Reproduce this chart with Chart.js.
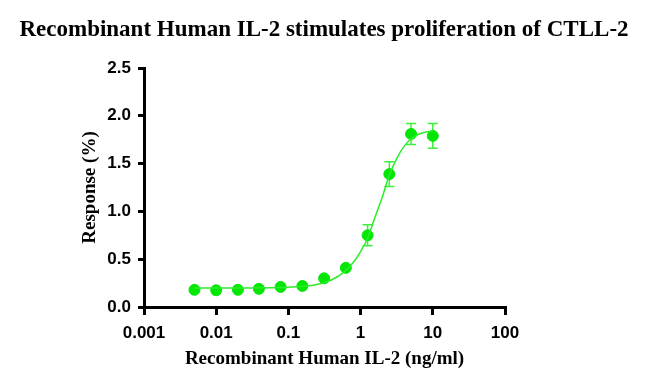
<!DOCTYPE html>
<html lang="en">
<head>
    <meta charset="UTF-8">
    <title>IL-2 CTLL-2 proliferation</title>
    <script src="https://cdn.jsdelivr.net/npm/chart.js"></script>
    <style>
        html, body { margin: 0; padding: 0; background: #fff; }
        .chart-container { position: relative; width: 648px; height: 389px; }
    </style>
</head>
<body>
    <div class="chart-container">
        <canvas id="doseChart"></canvas>
    </div>
    <script>
        // measured points (ng/ml, two-fold dilution from 10)
        const doses = [0.005, 0.01, 0.02, 0.039, 0.078, 0.156, 0.3125, 0.625, 1.25, 2.5, 5, 10];
        const responses = [0.18, 0.175, 0.18, 0.19, 0.21, 0.22, 0.30, 0.41, 0.75, 1.39, 1.81, 1.79];
        const errors = [0, 0, 0, 0, 0, 0, 0, 0, 0.11, 0.13, 0.11, 0.13];

        // fitted curve
        const curveX = [0.005, 0.02, 0.08, 0.15, 0.25, 0.4, 0.6, 0.8, 1.0, 1.25, 1.6, 2.0, 2.5, 3.2, 4, 5, 6.5, 8, 10];
        const curveY = [0.20, 0.20, 0.205, 0.215, 0.235, 0.285, 0.37, 0.47, 0.58, 0.72, 0.95, 1.15, 1.38, 1.56, 1.68, 1.76, 1.81, 1.83, 1.84];

        const xTicks = [0.001, 0.01, 0.1, 1, 10, 100];

        const tickFont = { family: 'Liberation Sans', size: 17, weight: 'bold' };
        const titleFont = { family: 'Liberation Serif', size: 19, weight: 'bold' };

        // error bars drawn under the dots
        const errorBars = {
            id: 'errorBars',
            beforeDatasetsDraw(chart) {
                const { ctx, scales: { x, y } } = chart;
                ctx.save();
                ctx.strokeStyle = '#3cf03c';
                ctx.lineWidth = 1.5;
                doses.forEach((d, i) => {
                    if (!errors[i]) return;
                    const px = x.getPixelForValue(d);
                    const top = y.getPixelForValue(responses[i] + errors[i]);
                    const bot = y.getPixelForValue(responses[i] - errors[i]);
                    ctx.beginPath();
                    ctx.moveTo(px, top); ctx.lineTo(px, bot);
                    ctx.moveTo(px - 5, top); ctx.lineTo(px + 5, top);
                    ctx.moveTo(px - 5, bot); ctx.lineTo(px + 5, bot);
                    ctx.stroke();
                });
                ctx.restore();
            }
        };

        const ctx = document.getElementById('doseChart').getContext('2d');
        new Chart(ctx, {
            type: 'scatter',
            data: {
                datasets: [{
                    label: 'Fit',
                    type: 'line',
                    data: curveX.map((v, i) => ({ x: v, y: curveY[i] })),
                    borderColor: '#2aee2a',
                    borderWidth: 1.5,
                    pointRadius: 0,
                    cubicInterpolationMode: 'monotone',
                    fill: false
                }, {
                    label: 'Response',
                    data: doses.map((v, i) => ({ x: v, y: responses[i] })),
                    backgroundColor: '#05e605',
                    borderColor: '#05e605',
                    pointRadius: 5.5,
                    pointHoverRadius: 5.5
                }]
            },
            options: {
                responsive: true,
                maintainAspectRatio: false,
                animation: false,
                layout: { padding: 0 },
                plugins: {
                    legend: { display: false },
                    tooltip: { enabled: false },
                    title: {
                        display: true,
                        text: 'Recombinant Human IL-2 stimulates proliferation of CTLL-2',
                        color: '#000',
                        font: { family: 'Liberation Serif', size: 23, weight: 'bold' },
                        padding: { top: 16.2, bottom: 24.2 }
                    }
                },
                scales: {
                    x: {
                        type: 'logarithmic',
                        min: 0.001,
                        max: 100,
                        afterBuildTicks: scale => { scale.ticks = xTicks.map(v => ({ value: v, major: true })); },
                        afterFit: scale => { scale.height = 82; },
                        ticks: {
                            color: '#000',
                            font: tickFont,
                            padding: 8,
                            maxRotation: 0,
                            autoSkip: false,
                            callback: v => String(v)
                        },
                        grid: { drawOnChartArea: false, color: '#000', lineWidth: 3, tickLength: 8 },
                        border: { color: '#000', width: 3 },
                        title: {
                            display: true,
                            text: 'Recombinant Human IL-2 (ng/ml)',
                            color: '#000',
                            font: titleFont,
                            padding: { top: 0, bottom: 19 }
                        }
                    },
                    y: {
                        min: 0,
                        max: 2.5,
                        afterFit: scale => { scale.width = 144; },
                        ticks: {
                            stepSize: 0.5,
                            color: '#000',
                            font: tickFont,
                            padding: 7,
                            callback: v => v.toFixed(1)
                        },
                        grid: { drawOnChartArea: false, color: '#000', lineWidth: 3, tickLength: 6 },
                        border: { color: '#000', width: 3 },
                        title: {
                            display: true,
                            text: 'Response (%)',
                            color: '#000',
                            font: titleFont,
                            padding: { top: 79, bottom: 0 }
                        }
                    },
                    // empty right-hand spacer so the plot ends where the reference does
                    spacer: {
                        position: 'right',
                        display: true,
                        afterFit: scale => { scale.width = 143; },
                        ticks: { display: false },
                        grid: { display: false },
                        border: { display: false }
                    }
                }
            },
            plugins: [errorBars]
        });
    </script>
</body>
</html>
